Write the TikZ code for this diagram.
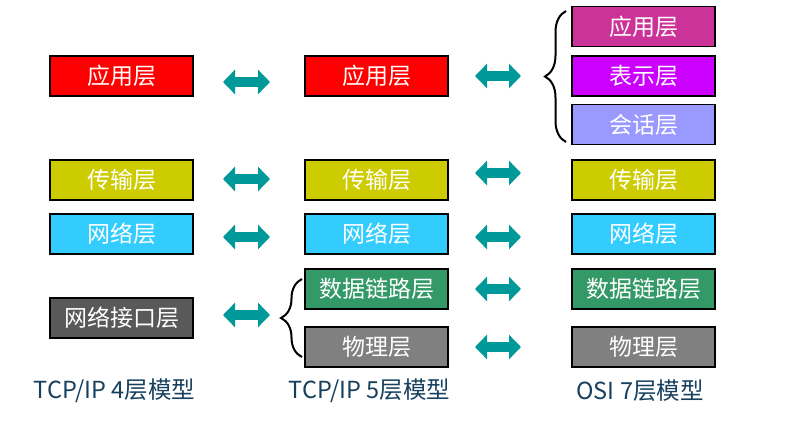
\documentclass[tikz,border=0pt]{standalone}
\usepackage{fontspec}
\setmainfont{Noto Sans CJK SC}
\usetikzlibrary{positioning,arrows.meta,decorations.pathreplacing}
\definecolor{appred}{HTML}{FF0000}
\definecolor{tptyellow}{HTML}{CCCC00}
\definecolor{netblue}{HTML}{33CCFF}
\definecolor{ifgray}{HTML}{595959}
\definecolor{linkgreen}{HTML}{339966}
\definecolor{phygray}{HTML}{808080}
\definecolor{osipink}{HTML}{CC3399}
\definecolor{prepurple}{HTML}{CC00FF}
\definecolor{seslilac}{HTML}{9999FF}
\definecolor{swapteal}{HTML}{009999}
\definecolor{modelnavy}{HTML}{17405E}
\tikzstyle{layer}=[draw,line width=1.5pt,text=white,inner sep=0pt,
  minimum width=143pt,minimum height=40pt,font=\fontsize{23}{27}\selectfont]
\tikzstyle{swap}=[swapteal,line width=10.5pt,
  {Triangle[length=12pt,width=24pt]}-{Triangle[length=12pt,width=24pt]}]
\tikzstyle{group}=[decorate,decoration={brace,amplitude=21pt},line width=2pt]

\begin{document}
\begin{tikzpicture}[x=1pt, y=-1pt, on grid]
  \tikzstyle{model}=[text=modelnavy, font=\fontsize{23.5}{28}\selectfont]
  \useasboundingbox (0,0) rectangle (788,431);

  % TCP/IP 4 layers
  \node[layer, fill=appred] (app1) at (121.5,76) {应用层};
  \node[layer, fill=tptyellow, below=104pt of app1] (tpt1) {传输层};
  \node[layer, fill=netblue, below=54pt of tpt1] (net1) {网络层};
  \node[layer, fill=ifgray, below=84pt of net1] (if1) {网络接口层};
  \node[model] (m1) at (114.5,391) {TCP/IP 4层模型};

  % TCP/IP 5 layers
  \node[layer, fill=appred, right=255pt of app1] (app2) {应用层};
  \node[layer, fill=tptyellow, right=255pt of tpt1] (tpt2) {传输层};
  \node[layer, fill=netblue, right=255pt of net1] (net2) {网络层};
  \node[layer, fill=linkgreen, below=55pt of net2] (dl2) {数据链路层};
  \node[layer, fill=phygray, below=58pt of dl2] (phy2) {物理层};
  \node[model] (m2) at (369.5,391) {TCP/IP 5层模型};

  % OSI 7 layers
  \node[layer, fill=prepurple, right=267pt of app2] (pre3) {表示层};
  \node[layer, fill=osipink, above=49.5pt of pre3] (app3) {应用层};
  \node[layer, fill=seslilac, below=48.5pt of pre3] (ses3) {会话层};
  \node[layer, fill=tptyellow, right=267pt of tpt2] (tpt3) {传输层};
  \node[layer, fill=netblue, right=267pt of net2] (net3) {网络层};
  \node[layer, fill=linkgreen, right=267pt of dl2] (dl3) {数据链路层};
  \node[layer, fill=phygray, right=267pt of phy2] (phy3) {物理层};
  \node[model] (m3) at (640,391) {OSI 7层模型};

  % arrows
  \foreach \y [count=\i] in {82,179,237,315} {
    \coordinate (l\i) at (223,\y);
    \coordinate (r\i) at (270,\y);
    \draw[swap] (l\i) -- (r\i);
  }
  \foreach \y [count=\i] in {76,173,237,289,347} {
    \coordinate (ll\i) at (475,\y);
    \coordinate (rr\i) at (521,\y);
    \draw[swap] (ll\i) -- (rr\i);
  }

  % braces
  \coordinate (b3lo) at (566,142);
  \coordinate (b3hi) at (566,11);
  \draw[group] (b3lo) -- (b3hi);
  \coordinate (b2lo) at (302,357);
  \coordinate (b2hi) at (302,279);
  \draw[group] (b2lo) -- (b2hi);
\end{tikzpicture}
\end{document}
